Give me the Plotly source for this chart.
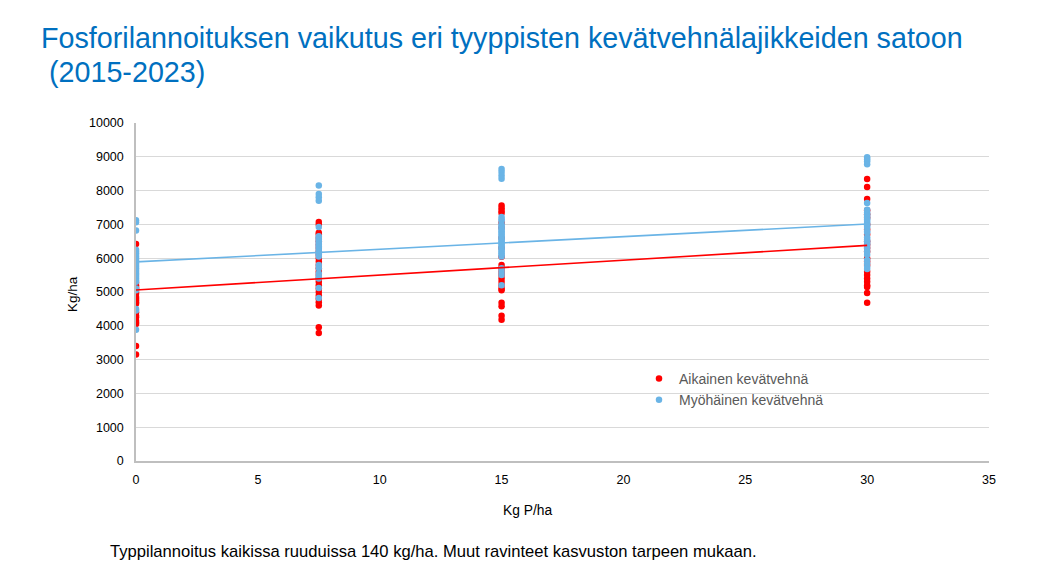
import plotly.graph_objects as go

# Data
red_x0 = [6420, 5270, 5200, 5150, 5100, 5000, 4950, 4850, 4800, 4750, 4700, 4650, 4400, 4300, 4250, 4150, 4100, 4050, 3400, 3150]
blue_x0 = [7120, 7060, 6820, 6250, 6200, 6150, 6100, 6050, 6000, 5950, 5900, 5850, 5800, 5750, 5700, 5650, 5600, 5550, 5500, 5450, 5400, 5350, 5300, 5100, 5050, 4500, 4450, 3880]

red_x7 = [7070, 7000, 6750, 6700, 6600, 6500, 6400, 6300, 6200, 6100, 6000, 5900, 5800, 5700, 5600, 5500, 5400, 5300, 5200, 5100, 5000, 4900, 4800, 4700, 4600, 3960, 3790]
blue_x7 = [8150, 7900, 7800, 7700, 6920, 6650, 6600, 6550, 6500, 6450, 6400, 6350, 6300, 6250, 6200, 6150, 6100, 6050, 5800, 5700, 5550, 5450, 5400, 5120, 4820]

red_x15 = [7560, 7480, 7400, 7340, 7050, 6900, 6600, 6300, 6040, 5800, 5700, 5600, 5500, 5400, 5300, 5200, 5100, 5050, 4680, 4580, 4300, 4180]
blue_x15 = [8640, 8550, 8450, 8350, 7220, 7150, 7100, 7000, 6950, 6900, 6850, 6800, 6750, 6700, 6650, 6600, 6550, 6500, 6450, 6400, 6350, 6300, 6250, 6200, 6150, 6100, 6050, 5700, 5600, 5500, 5200]

red_x30 = [8340, 8110, 7750, 7420, 7300, 7200, 7000, 6850, 6700, 6500, 6400, 6300, 6200, 6000, 5900, 5800, 5600, 5500, 5400, 5300, 5200, 5150, 4970, 4680]
blue_x30 = [8990, 8930, 8870, 8780, 7630, 7430, 7350, 7300, 7250, 7200, 7150, 7100, 7050, 7000, 6950, 6900, 6800, 6750, 6620, 6550, 6500, 6450, 6400, 6300, 6200, 6100, 5950, 5850, 5750, 5680]

p_levels = [0, 7.5, 15, 30]

trend_x = [0, 30]
red_trend = [5060, 6380]
blue_trend = [5890, 7010]

series_names = ["Aikainen kevätvehnä", "Myöhäinen kevätvehnä"]
title_lines = ["Fosforilannoituksen vaikutus eri tyyppisten kevätvehnälajikkeiden satoon", "(2015-2023)"]
x_title = "Kg P/ha"
y_title = "Kg/ha"
footnote = "Typpilannoitus kaikissa ruuduissa 140 kg/ha. Muut ravinteet kasvuston tarpeen mukaan."

red_cols = [red_x0, red_x7, red_x15, red_x30]
blue_cols = [blue_x0, blue_x7, blue_x15, blue_x30]

RED = "#FF0000"
BLUE = "#6AB4E6"

# figure geometry (page has an 8px body margin)
W, H = 1055, 568
L, T, PW, PH = 128, 115, 853, 338


def flatten(cols):
    xs, ys = [], []
    for p, col in zip(p_levels, cols):
        xs += [p] * len(col)
        ys += col
    return xs, ys


rx, ry = flatten(red_cols)
bx, by = flatten(blue_cols)

fig = go.Figure()
fig.add_trace(go.Scatter(x=rx, y=ry, mode="markers", name=series_names[0],
                         marker=dict(color=RED, size=6.5)))
fig.add_trace(go.Scatter(x=bx, y=by, mode="markers", name=series_names[1],
                         marker=dict(color=BLUE, size=6.5)))
fig.add_trace(go.Scatter(x=trend_x, y=red_trend, mode="lines", showlegend=False,
                         line=dict(color=RED, width=1.6), hoverinfo="skip"))
fig.add_trace(go.Scatter(x=trend_x, y=blue_trend, mode="lines", showlegend=False,
                         line=dict(color=BLUE, width=1.6), hoverinfo="skip"))


def px_x(px):
    return (px - L) / PW


def px_y(py):
    return (T + PH - py) / PH


fig.update_layout(
    width=W, height=H,
    margin=dict(l=L, r=W - L - PW, t=T, b=H - T - PH),
    paper_bgcolor="white", plot_bgcolor="white",
    font=dict(family="Liberation Sans, Arial, sans-serif", color="#000000", size=13),
    legend=dict(
        x=px_x(631), y=px_y(355), xanchor="left", yanchor="top",
        bgcolor="rgba(0,0,0,0)", font=dict(size=14, color="#595959"),
        itemwidth=30, tracegroupgap=0,
    ),
    annotations=[
        dict(text=title_lines[0], xref="paper", yref="paper", x=px_x(31), y=px_y(30),
             xanchor="left", yanchor="middle", showarrow=False,
             font=dict(size=28.7, color="#0070C0")),
        dict(text=title_lines[1], xref="paper", yref="paper", x=px_x(39), y=px_y(64),
             xanchor="left", yanchor="middle", showarrow=False,
             font=dict(size=28.7, color="#0070C0")),
        dict(text=footnote, xref="paper", yref="paper", x=px_x(100), y=px_y(543),
             xanchor="left", yanchor="middle", showarrow=False,
             font=dict(size=16.6, color="#000000")),
        dict(text=x_title, xref="paper", yref="paper", x=px_x(519), y=px_y(502),
             xanchor="center", yanchor="middle", showarrow=False,
             font=dict(size=13.8, color="#000000")),
        dict(text=y_title, xref="paper", yref="paper", x=px_x(64), y=px_y(286),
             xanchor="center", yanchor="middle", showarrow=False, textangle=-90,
             font=dict(size=13.5, color="#000000")),
    ],
)

fig.update_xaxes(
    range=[0, 35], dtick=5, tick0=0, showgrid=False,
    showline=True, linecolor="#BFBFBF", linewidth=1.5,
    ticks="outside", ticklen=6, tickcolor="rgba(0,0,0,0)",
    tickfont=dict(size=12.5, color="#000000"),
    zeroline=False,
)
fig.update_yaxes(
    range=[0, 10000], dtick=1000, tick0=0, tickformat="d",
    showgrid=True, gridcolor="#D9D9D9", gridwidth=1,
    showline=True, linecolor="#BFBFBF", linewidth=1.5,
    ticks="outside", ticklen=8, tickcolor="rgba(0,0,0,0)",
    tickfont=dict(size=12.5, color="#000000"),
    zeroline=False,
)

fig.write_html("out.html")
